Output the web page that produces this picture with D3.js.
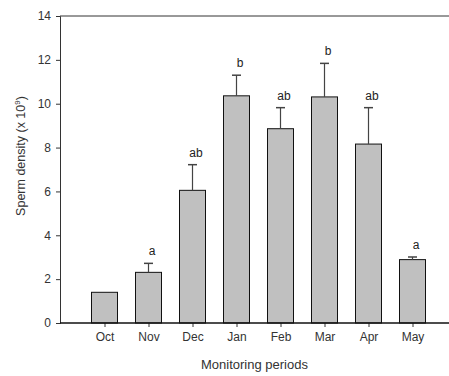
<!DOCTYPE html>
<html><head><meta charset="utf-8">
<script src="https://cdn.jsdelivr.net/npm/d3@7"></script>
<style>body{margin:0;background:#fff}svg{display:block}text{font-family:"Liberation Sans",Arial,sans-serif;fill:#333}</style>
</head><body>
<svg id="c" width="449" height="376"></svg>
<script>
const categories = ["Oct","Nov","Dec","Jan","Feb","Mar","Apr","May"];
const means = [1.40, 2.31, 6.05, 10.36, 8.86, 10.31, 8.16, 2.89];
const errors = [0, 0.41, 1.17, 0.94, 0.96, 1.53, 1.66, 0.12];
const letters = ["", "a", "ab", "b", "ab", "b", "ab", "a"];
const yTicks = [0, 2, 4, 6, 8, 10, 12, 14];

const svg = d3.select("#c");
const mLeft = 60, mRight = 449, mTop = 16, mBottom = 323;
const x = d3.scalePoint().domain(categories).range([104.5, 412.5]);
const y = d3.scaleLinear().domain([0, 14]).range([mBottom, mTop]);
const bw = 26;

// top frame line
svg.append("line").attr("x1", mLeft).attr("x2", mRight).attr("y1", mTop).attr("y2", mTop)
  .attr("stroke", "#333").attr("stroke-width", 1);

// y axis
const ya = svg.append("g").attr("transform", `translate(${mLeft},0)`)
  .call(d3.axisLeft(y).tickValues(yTicks).tickSize(4).tickPadding(5).tickFormat(d3.format("d")));
ya.select(".domain").attr("stroke", "#333");
ya.selectAll(".tick line").attr("stroke", "#333");
ya.selectAll("text").attr("font-size", 12).style("fill", "#333");

// bars
svg.selectAll("rect.bar").data(categories).join("rect")
  .attr("x", d => x(d) - bw / 2).attr("width", bw)
  .attr("y", (d, i) => y(means[i])).attr("height", (d, i) => y(0) - y(means[i]))
  .attr("fill", "#c0c0c0").attr("stroke", "#111").attr("stroke-width", 1);

// error bars
const eb = svg.append("g");
categories.forEach((c, i) => {
  if (errors[i] <= 0) return;
  const cx = x(c);
  eb.append("line").attr("x1", cx).attr("x2", cx).attr("y1", y(means[i])).attr("y2", y(means[i] + errors[i]))
    .attr("stroke", "#444").attr("stroke-width", 1.2);
  eb.append("line").attr("x1", cx - 4.5).attr("x2", cx + 4.5)
    .attr("y1", y(means[i] + errors[i])).attr("y2", y(means[i] + errors[i]))
    .attr("stroke", "#444").attr("stroke-width", 1.5);
});

// letters
svg.selectAll("text.lab").data(categories).join("text").attr("class", "lab")
  .attr("x", d => x(d) + 3.5)
  .attr("y", (d, i) => y(means[i] + errors[i]) - 8)
  .attr("text-anchor", "middle").attr("font-size", 12)
  .style("fill", "#222")
  .text((d, i) => letters[i]);

// x axis
const xa = svg.append("g").attr("transform", `translate(0,${mBottom})`)
  .call(d3.axisBottom(x).tickSize(4).tickPadding(5));
xa.select(".domain").remove();
xa.selectAll(".tick line").attr("stroke", "#333");
xa.selectAll("text").attr("font-size", 12).style("fill", "#333");
svg.append("line").attr("x1", mLeft).attr("x2", mRight).attr("y1", mBottom).attr("y2", mBottom)
  .attr("stroke", "#111").attr("stroke-width", 1.5);

// axis titles
svg.append("text").attr("x", (mLeft + mRight) / 2).attr("y", 369)
  .attr("text-anchor", "middle").attr("font-size", 13).text("Monitoring periods");
const yl = svg.append("text").attr("transform", "translate(25,156) rotate(-90)")
  .attr("text-anchor", "middle").attr("font-size", 12.5);
yl.append("tspan").text("Sperm density (x 10");
yl.append("tspan").attr("dy", -5).attr("font-size", 8).text("9");
yl.append("tspan").attr("dy", 5).text(")");
</script>
</body></html>
